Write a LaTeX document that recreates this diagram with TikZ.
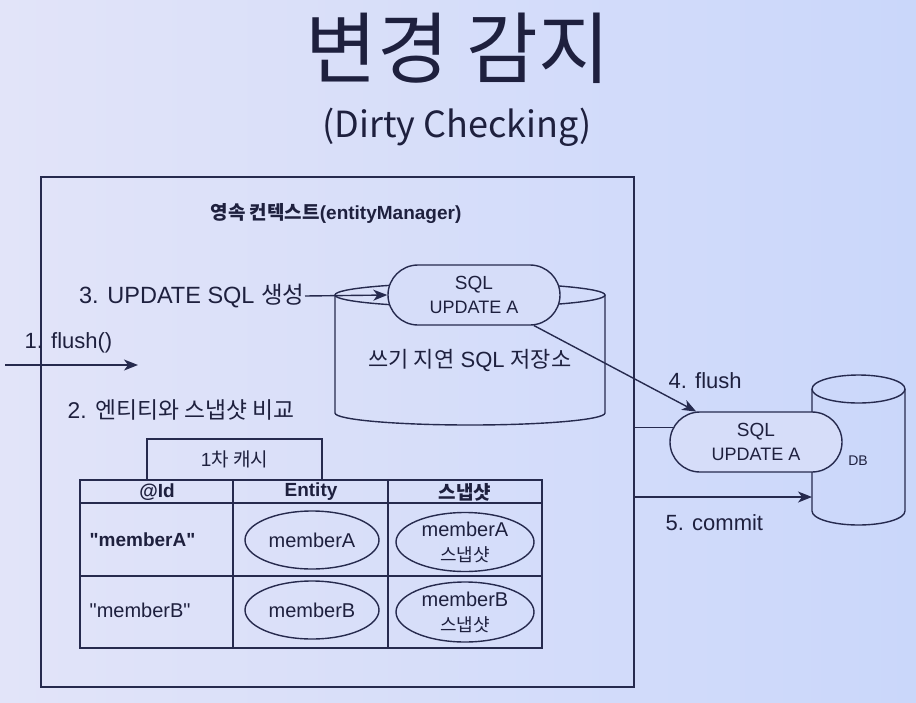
\documentclass[tikz,border=0pt]{standalone}
\usepackage{fontspec}
\setmainfont{Liberation Sans}[Ligatures=TeXOff]
\newfontfamily\kr{Noto Sans CJK KR}
\usetikzlibrary{shapes.geometric,shapes.misc,arrows.meta}
\definecolor{ink}{RGB}{38,42,78}
\definecolor{txt}{RGB}{30,32,62}
\definecolor{bgl}{RGB}{226,228,249}
\definecolor{bgr}{RGB}{202,215,250}
\definecolor{bgm}{RGB}{214,221,249}
\newcommand\fsz[2]{\fontsize{#1}{#2}\selectfont}
\tikzset{
  arr/.style={-{Stealth[length=14pt,width=11pt,inset=4pt]}},
  pill/.style={draw, fill=bgm, rounded rectangle, minimum width=172pt, minimum height=60pt, inner sep=0pt, align=center, font=\fsz{19}{24}},
  oval/.style={draw, ellipse, inner sep=0pt, align=center},
  lbl/.style={inner sep=0pt, font=\fsz{22}{26}},
  cell/.style={inner sep=0pt, font=\fsz{20}{24}},
  hdr/.style={inner sep=0pt, font=\bfseries\fsz{19}{22}},
}
\begin{document}
\begin{tikzpicture}[x=1pt,y=-1pt,line width=1.4pt,color=ink,text=txt]
\useasboundingbox (0,0) rectangle (916,702);
\shade[left color=bgl,right color=bgr] (0,0) rectangle (916,702);

% title
\node[font=\kr\fsz{78}{86}] (title) at (458,48) {변경 감지};
\node[font=\kr\fsz{36}{42}] (sub) at (457,127) {(Dirty Checking)};

% persistence context box
\node[draw, minimum width=593pt, minimum height=510pt, inner sep=0pt] (ctx) at (337.5,432) {};
\node[font=\bfseries\fsz{19}{22}, inner sep=0pt] (ctxl) at (336,213) {{\kr 영속 컨텍스트}(entityManager)};

% write-behind SQL store (cylinder)
\draw (470,295) ellipse [x radius=135, y radius=12];
\draw (335,295) -- (335,413) arc [start angle=180, end angle=0, x radius=135, y radius=12] -- (605,295);
\coordinate (storeC) at (470,360);
\node[font=\fsz{22}{26}, inner sep=0pt] (storel) at (storeC) {{\kr 쓰기 지연} SQL {\kr 저장소}};
\node[pill] (p1) at (474,295) {SQL\\\fsz{18}{24}UPDATE A};

% labels and arrows
\node[lbl, anchor=east, font=\fsz{23.5}{26}] (t3) at (305,296) {3. UPDATE SQL {\kr 생성}};
\draw[arr] (t3.east) -- (p1.west);
\node[lbl, anchor=west] (t1) at (24,343) {1. flush()};
\coordinate (fa) at (5,365);
\coordinate (fb) at (138,365);
\draw[arr] (fa) -- (fb);
\node[lbl, anchor=west, font=\fsz{22.8}{26}] (t2) at (67,410) {2. {\kr 엔티티와 스냅샷 비교}};

% DB cylinder
\draw (858.5,389) ellipse [x radius=46.5, y radius=14];
\draw (812,389) -- (812,511) arc [start angle=180, end angle=0, x radius=46.5, y radius=14] -- (905,389);
\node[font=\fsz{14}{16}, inner sep=0pt] (db) at (858,461) {DB};
\coordinate (dbleft) at (812,497);

% flushed SQL
\node[pill] (p2) at (756,442) {SQL\\\fsz{18}{24}UPDATE A};
\draw[arr] (p1.-27) -- (p2.153);
\node[lbl, anchor=west] (t4) at (668,381) {4. flush};
\draw (ctx.east |- p2.170) -- (p2.170);
\draw[arr] (ctx.east |- dbleft) -- (dbleft);
\node[lbl, anchor=west] (t5) at (665,523) {5. commit};

% first-level cache
\node[draw, minimum width=175pt, minimum height=41pt, inner sep=0pt, font=\fsz{19}{22}] (tab) at (234.5,459.5) {1{\kr 차 캐시}};
\draw (80,480) rectangle (542,648);
\draw (80,503) -- (542,503);
\draw (80,576) -- (542,576);
\draw (233,480) -- (233,648);
\draw (388,480) -- (388,648);
\node[hdr] (h1) at (157,492) {@Id};
\node[hdr] (h2) at (311,492) {Entity};
\node[hdr] (h3) at (465,492) {\kr 스냅샷};
\node[cell, anchor=west, font=\bfseries\fsz{19}{24}] (id1) at (89,540) {"memberA"};
\node[cell, anchor=west] (id2) at (89,610) {"memberB"};
\node[oval, cell, minimum width=134pt, minimum height=58pt] (e1) at (312,540) {memberA};
\node[oval, cell, minimum width=134pt, minimum height=58pt] (e2) at (312,610) {memberB};
\node[oval, cell, minimum width=138pt, minimum height=59pt, font=\fsz{20}{25}] (s1) at (465,542) {memberA\\{\kr\fsz{18}{25}스냅샷}};
\node[oval, cell, minimum width=138pt, minimum height=60pt, font=\fsz{20}{25}] (s2) at (465,612) {memberB\\{\kr\fsz{18}{25}스냅샷}};
\end{tikzpicture}
\end{document}
